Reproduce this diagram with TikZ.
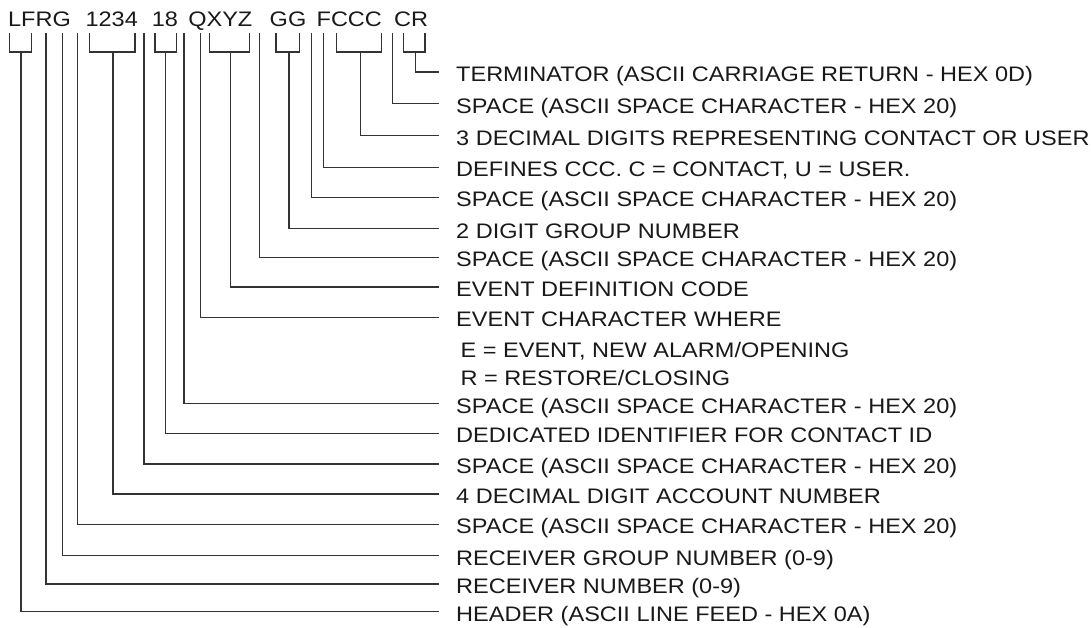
\documentclass[tikz,border=0pt]{standalone}
\usepackage{fontspec}
\setmainfont{Liberation Sans}[FakeStretch=1.12]
\newcommand\leaderline[5]{%
  \coordinate (#1s) at (#2,#3);
  \coordinate (#1e) at (439.3,#4);
  \node[lab] (#1) at (456,#4+9.5) {#5};
  \draw[ln] (#1s) |- (#1e);}
\newcommand\brk[3]{%
  \coordinate (#1a) at (#2,33);
  \coordinate (#1b) at (#3,33);
  \draw[ln] (#1a) -- ++(0,19) -| (#1b);}
\begin{document}
\begin{tikzpicture}[x=1pt,y=-1pt,
  ln/.style={line width=1.3pt, draw=black!80},
  lab/.style={anchor=base west, inner sep=0pt, font=\fontsize{21}{25}\selectfont, text=black!90},
  code/.style={anchor=base, inner sep=0pt, font=\fontsize{21}{25}\selectfont, text=black!90}]
\useasboundingbox (0,0) rectangle (1091,628);
% top code text
\node[code] (cLFRG) at (39.5,26.5) {LFRG};
\node[code] (c1234) at (111.7,26.5) {1234};
\node[code] (c18) at (165,26.5) {18};
\node[code] (cQXYZ) at (220.3,26.5) {QXYZ};
\node[code] (cGG) at (288,26.5) {GG};
\node[code] (cFCCC) at (349.3,26.5) {FCCC};
\node[code] (cCR) at (411,26.5) {CR};
% brackets
\brk{bLF}{9.5}{31.7}
\brk{bAcc}{89.3}{135}
\brk{bId}{155}{176.7}
\brk{bEv}{209.3}{249.3}
\brk{bGG}{276}{299.3}
\brk{bCCC}{336.7}{381.7}
\brk{bCR}{403.3}{425}
% leaders and labels
\leaderline{l1}{415.7}{52}{72}{TERMINATOR (ASCII CARRIAGE RETURN - HEX 0D)}
\leaderline{l2}{392.3}{33}{103.7}{SPACE (ASCII SPACE CHARACTER - HEX 20)}
\leaderline{l3}{360.7}{52}{135.7}{3 DECIMAL DIGITS REPRESENTING CONTACT OR USER}
\leaderline{l4}{323.3}{33}{167.2}{DEFINES CCC. C = CONTACT, U = USER.}
\leaderline{l5}{311.3}{33}{197.3}{SPACE (ASCII SPACE CHARACTER - HEX 20)}
\leaderline{l6}{289}{52}{228.5}{2 DIGIT GROUP NUMBER}
\leaderline{l7}{259.3}{33}{257.2}{SPACE (ASCII SPACE CHARACTER - HEX 20)}
\leaderline{l8}{230.7}{52}{287}{EVENT DEFINITION CODE}
\leaderline{l9}{200.7}{33}{317.3}{EVENT CHARACTER WHERE}
\leaderline{l10}{184}{33}{403.5}{SPACE (ASCII SPACE CHARACTER - HEX 20)}
\leaderline{l11}{165.7}{52}{433.3}{DEDICATED IDENTIFIER FOR CONTACT ID}
\leaderline{l12}{144}{33}{464}{SPACE (ASCII SPACE CHARACTER - HEX 20)}
\leaderline{l13}{113}{52}{494}{4 DECIMAL DIGIT ACCOUNT NUMBER}
\leaderline{l14}{77.7}{33}{524.3}{SPACE (ASCII SPACE CHARACTER - HEX 20)}
\leaderline{l15}{62.7}{33}{555.7}{RECEIVER GROUP NUMBER (0-9)}
\leaderline{l16}{46}{33}{584}{RECEIVER NUMBER (0-9)}
\leaderline{l17}{21}{52}{611.7}{HEADER (ASCII LINE FEED - HEX 0A)}
\node[lab] (l9b) at (460.5,357) {E = EVENT, NEW ALARM/OPENING};
\node[lab] (l9c) at (460.5,385) {R = RESTORE/CLOSING};
\end{tikzpicture}
\end{document}
